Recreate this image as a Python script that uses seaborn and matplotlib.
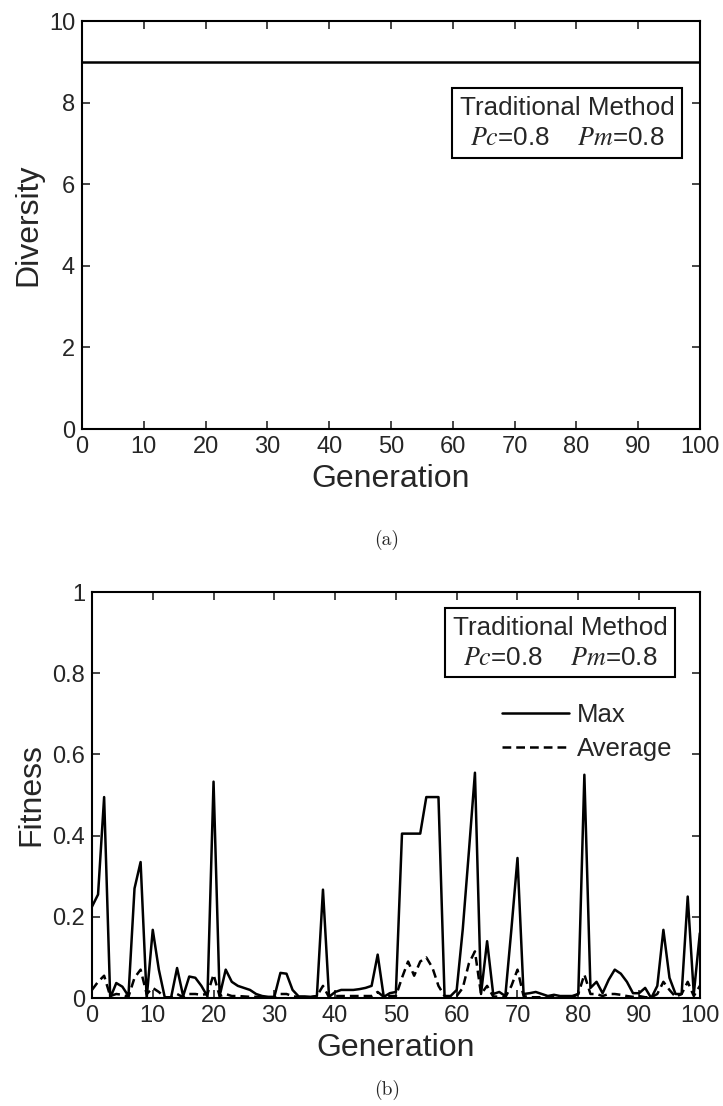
#Importing libraries
import pandas as pd
import matplotlib
matplotlib.use("Agg")
import matplotlib.pyplot as plt
import seaborn as sns

#Chart data
DiversityGeneration = [0, 100]
DiversityValue = [9, 9]

Generation = list(range(0, 101))
MaxFitness = [
    0.225, 0.255, 0.495, 0.0, 0.037, 0.028, 0.005, 0.27, 0.335, 0.0,
    0.168, 0.07, 0.0, 0.0, 0.074, 0.005, 0.053, 0.05, 0.03, 0.004,
    0.533, 0.005, 0.07, 0.04, 0.03, 0.025, 0.02, 0.01, 0.005, 0.003,
    0.003, 0.062, 0.06, 0.02, 0.004, 0.004, 0.003, 0.005, 0.267, 0.003,
    0.015, 0.02, 0.02, 0.02, 0.022, 0.025, 0.03, 0.107, 0.003, 0.012,
    0.015, 0.405, 0.405, 0.405, 0.405, 0.495, 0.495, 0.495, 0.005, 0.005,
    0.02, 0.17, 0.36, 0.555, 0.01, 0.14, 0.01, 0.015, 0.005, 0.17,
    0.345, 0.01, 0.012, 0.015, 0.01, 0.005, 0.008, 0.005, 0.005, 0.005,
    0.01, 0.55, 0.025, 0.04, 0.012, 0.045, 0.07, 0.06, 0.04, 0.012,
    0.012, 0.025, 0.0, 0.03, 0.168, 0.05, 0.01, 0.01, 0.25, 0.01,
    0.16,
]
AverageFitness = [
    0.02, 0.04, 0.055, 0.005, 0.01, 0.008, 0.003, 0.05, 0.07, 0.01,
    0.025, 0.015, 0.002, 0.002, 0.01, 0.002, 0.01, 0.01, 0.008, 0.01,
    0.058, 0.005, 0.01, 0.005, 0.005, 0.004, 0.003, 0.003, 0.002, 0.002,
    0.001, 0.01, 0.01, 0.005, 0.002, 0.002, 0.002, 0.005, 0.03, 0.002,
    0.005, 0.005, 0.005, 0.005, 0.005, 0.005, 0.005, 0.015, 0.003, 0.005,
    0.005, 0.05, 0.09, 0.055, 0.09, 0.1, 0.075, 0.03, 0.005, 0.002,
    0.005, 0.025, 0.085, 0.115, 0.01, 0.03, 0.004, 0.003, 0.002, 0.03,
    0.07, 0.005, 0.002, 0.002, 0.002, 0.002, 0.002, 0.002, 0.002, 0.002,
    0.01, 0.058, 0.01, 0.01, 0.005, 0.01, 0.01, 0.008, 0.005, 0.003,
    0.005, 0.002, 0.002, 0.01, 0.04, 0.02, 0.003, 0.01, 0.04, 0.005,
    0.03,
]
SeriesNames = ["Max", "Average"]
XTicks = list(range(0, 101, 10))
DiversityTicks = [0, 2, 4, 6, 8, 10]
FitnessTicks = [0, 0.2, 0.4, 0.6, 0.8, 1]
FitnessTickLabels = ["0", "0.2", "0.4", "0.6", "0.8", "1"]

#Long table for seaborn
FitnessFrame = pd.DataFrame({
    "Generation": Generation + Generation,
    "Fitness": MaxFitness + AverageFitness,
    "Series": [SeriesNames[0]] * len(Generation) + [SeriesNames[1]] * len(Generation),
})

#Style, MATLAB-like look
sns.set_style("ticks")
plt.rcParams["font.family"] = ["Liberation Sans", "DejaVu Sans"]
plt.rcParams["mathtext.fontset"] = "stix"
plt.rcParams["xtick.direction"] = "in"
plt.rcParams["ytick.direction"] = "in"
plt.rcParams["xtick.top"] = True
plt.rcParams["ytick.right"] = True

fig = plt.figure(figsize=(7.23, 11.06), dpi=100)
ax1 = fig.add_axes([0.1134, 0.6121, 0.8546, 0.3689])
ax2 = fig.add_axes([0.1272, 0.0976, 0.8408, 0.3671])

#Top panel: diversity
sns.lineplot(x=DiversityGeneration, y=DiversityValue, ax=ax1, color="black", linewidth=1.8)
ax1.set_xlim(0, 100)
ax1.set_ylim(0, 10)
ax1.set_xticks(XTicks)
ax1.set_yticks(DiversityTicks)
ax1.set_xlabel("Generation", fontsize=23)
ax1.set_ylabel("Diversity", fontsize=23)

#Bottom panel: fitness
sns.lineplot(data=FitnessFrame, x="Generation", y="Fitness", style="Series",
             dashes={"Max": "", "Average": (3.5, 2)}, color="black",
             linewidth=1.8, ax=ax2)
ax2.set_xlim(0, 100)
ax2.set_ylim(0, 1)
ax2.set_xticks(XTicks)
ax2.set_yticks(FitnessTicks)
ax2.set_yticklabels(FitnessTickLabels)
ax2.set_xlabel("Generation", fontsize=23)
ax2.set_ylabel("Fitness", fontsize=23)
ax2.legend(loc="center left", bbox_to_anchor=(0.675, 0.655), frameon=False,
           fontsize=18.5, handlelength=2.6, handletextpad=0.3, labelspacing=0.4,
           borderpad=0, borderaxespad=0)

for ax in [ax1, ax2]:
    ax.tick_params(labelsize=17, length=6, width=1.2, pad=5)
    for spine in ax.spines.values():
        spine.set_linewidth(1.5)
        spine.set_color("black")

#Parameter boxes
BoxText = "Traditional Method\n$\\mathit{Pc}$=0.8    $\\mathit{Pm}$=0.8"
ax1.text(0.785, 0.75, BoxText, transform=ax1.transAxes, ha="center", va="center",
         fontsize=18.7, linespacing=1.3,
         bbox=dict(boxstyle="square,pad=0.3", fc="white", ec="black", lw=1.5))
ax2.text(0.77, 0.875, BoxText, transform=ax2.transAxes, ha="center", va="center",
         fontsize=18.7, linespacing=1.3,
         bbox=dict(boxstyle="square,pad=0.3", fc="white", ec="black", lw=1.5))

#Panel captions
fig.text(0.535, 1 - 540 / 1106, "(a)", family="cmr10", fontsize=14, ha="center", va="center")
fig.text(0.535, 1 - 1090 / 1106, "(b)", family="cmr10", fontsize=14, ha="center", va="center")

plt.savefig("out.png", dpi=100)
